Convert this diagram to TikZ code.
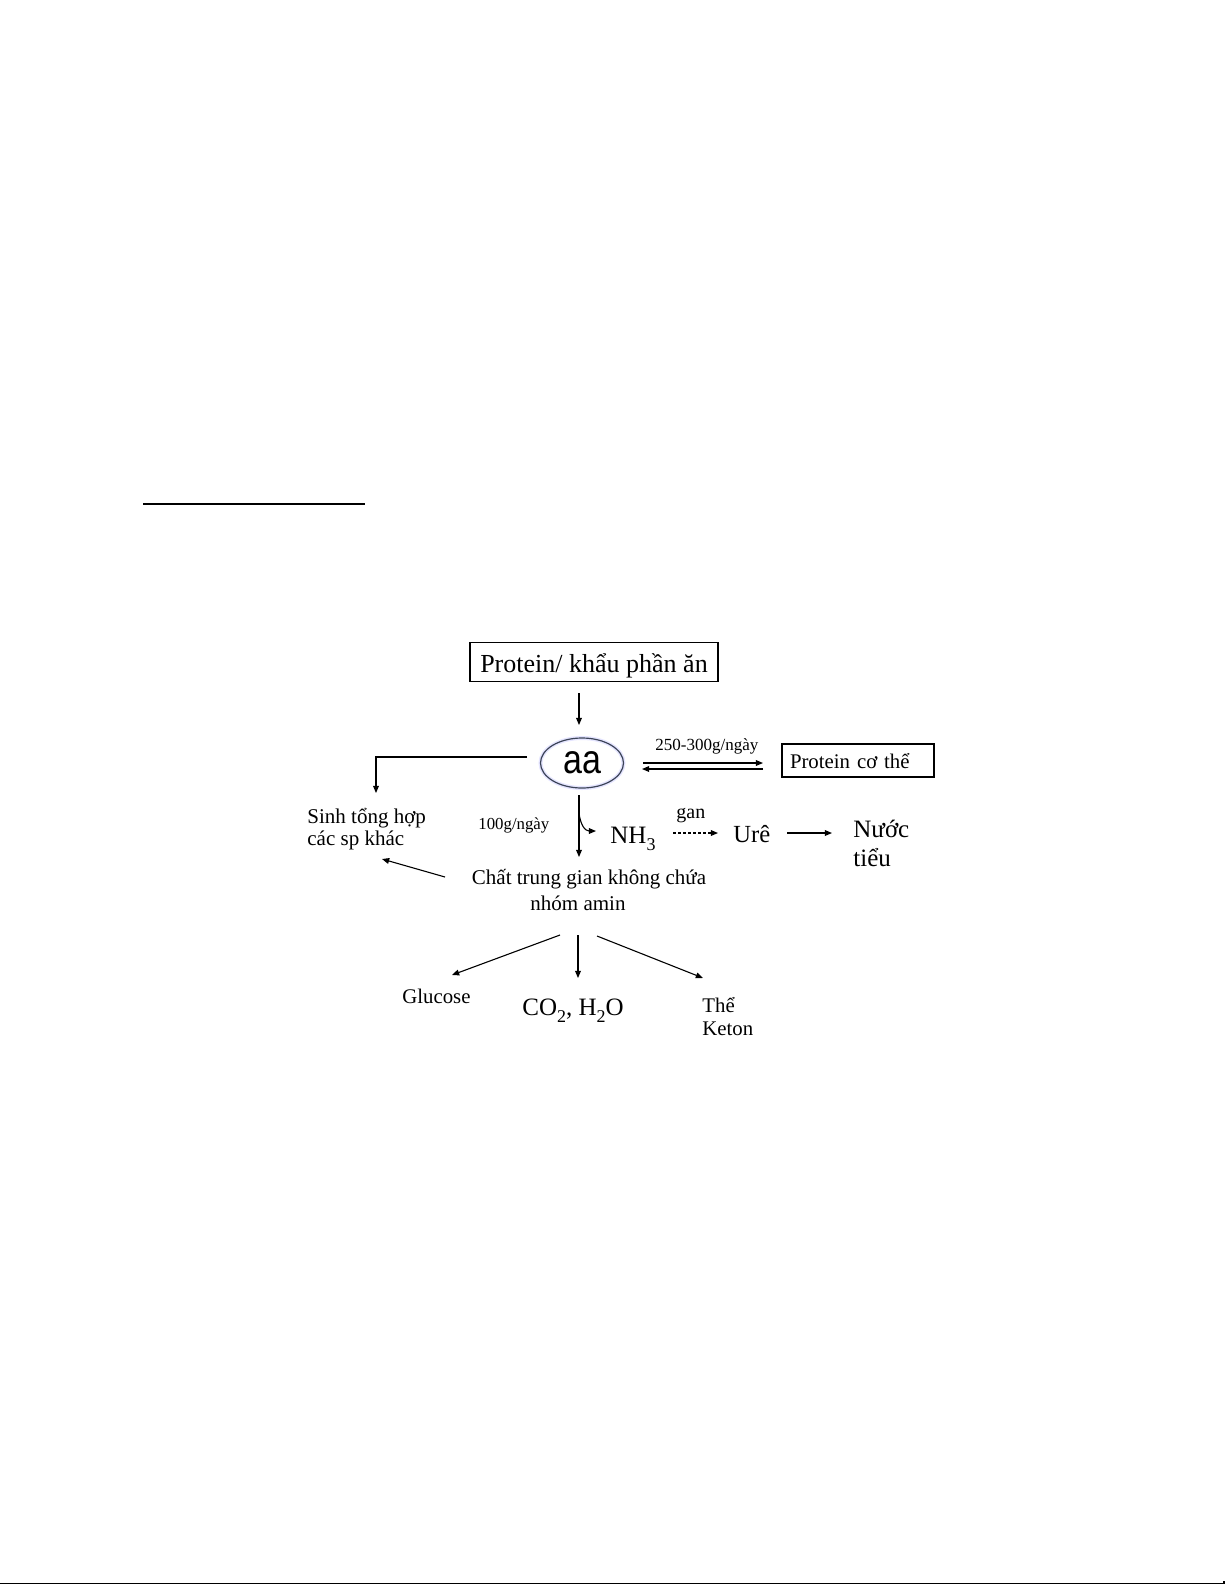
\documentclass[tikz,border=0pt]{standalone}
\usepackage{fontspec}
\usepackage{graphicx}
\setmainfont{Liberation Serif}
\newfontfamily\arialf{Liberation Sans}
\usetikzlibrary{arrows.meta,shapes.geometric}
\newcommand\twolinesL[2]{\begin{tabular}[t]{@{}l@{}}#1\\#2\end{tabular}}
\newcommand\twolinesC[2]{\begin{tabular}[t]{@{}c@{}}#1\\#2\end{tabular}}
\newcommand\fsz[2]{\fontsize{#1}{#2}\selectfont}
\newcommand\lowsub[1]{\raisebox{-3.6pt}{\fsz{9}{9}#1}}
\begin{document}
\begin{tikzpicture}[x=0.5pt,y=-0.5pt,
  arr/.style={-{Triangle[length=3.6pt,width=2.9pt]}, line width=0.55pt},
  dasharr/.style={arr, dash pattern=on 1.5pt off 1pt},
  txt/.style={inner sep=0pt, anchor=base west},
  ctxt/.style={inner sep=0pt, anchor=base},
  boxed/.style={draw, line width=0.6pt, inner sep=0pt},
  rule/.style={line width=0.6pt}]
\useasboundingbox (0,0) rectangle (1225,1585);
\fill[white] (0,0) rectangle (1225,1585);
% page rules
\draw[rule] (143,504) -- (365,504);
\draw[rule] (0,1583.5) -- (1225,1583.5);
\draw[rule] (1224,1583.5) -- (1224,1581);

% nodes
\node[boxed, minimum width=124pt, minimum height=19.5pt, text height=12pt, text depth=2pt,
      font=\fsz{13}{15}] (prot) at (594,662) {Protein/ khẩu phần ăn};
\node[ellipse, draw={rgb,255:red,60;green,68;blue,88}, line width=0.6pt,
      preaction={draw=blue!10, line width=2pt},
      minimum width=41.5pt, minimum height=25pt, inner sep=0pt,
      font=\arialf\fsz{17}{17}] (aa) at (582,763) {\scalebox{1}[1.2]{aa}};
\node[boxed, minimum width=76pt, minimum height=16.5pt, text width=68pt, align=left,
      text height=9.5pt, text depth=2pt, font=\fsz{10.4}{12}] (pct) at (858,760.5) {Protein cơ thể};
\node[txt, font=\fsz{8.5}{10}] (l250) at (655,750) {250-300g/ngày};
\node[txt, font=\fsz{10.5}{11}] (sinh) at (307,823) {\twolinesL{Sinh tổng hợp}{các sp khác}};
\node[txt, font=\fsz{8.4}{10}] (l100) at (478,829) {100g/ngày};
\node[txt, font=\fsz{12.5}{14}] (nh3) at (610,843) {NH\lowsub{3}};
\node[txt, font=\fsz{10}{12}] (gan) at (676,818) {gan};
\node[txt, font=\fsz{12.3}{14}] (ure) at (733,842) {Urê};
\node[txt, font=\fsz{12.5}{14.5}] (nuoc) at (853,837) {\twolinesL{Nước}{tiểu}};
\node[ctxt, font=\fsz{10.5}{13}] (chat) at (589,884) {\twolinesC{Chất trung gian không chứa}{nhóm amin\hspace*{11pt}}};
\node[txt, font=\fsz{10.4}{12}] (gluc) at (402,1003) {Glucose};
\node[txt, font=\fsz{12.5}{14}] (co2) at (522,1015) {CO\lowsub{2}, H\lowsub{2}O};
\node[txt, font=\fsz{10.4}{11.5}] (keton) at (702,1012) {\twolinesL{Thể}{Keton}};

% connector end points
\coordinate (protOut) at (579,693);
\coordinate (aaIn) at (579,725);
\coordinate (aaLeft) at (527,757);
\coordinate (sinhIn) at (376,793);
\coordinate (aaRightA) at (643,763);
\coordinate (pctInA) at (763,763);
\coordinate (pctOutB) at (763,769);
\coordinate (aaRightB) at (642,769);
\coordinate (aaOut) at (579,795);
\coordinate (chatIn) at (579,857);
\coordinate (curveStart) at (579,813);
\coordinate (nh3In) at (596,831);
\coordinate (nh3Out) at (673,833);
\coordinate (ureIn) at (718,833);
\coordinate (ureOut) at (787,833);
\coordinate (nuocIn) at (832,833);
\coordinate (chatLeft) at (445,877);
\coordinate (sinhIn2) at (382,859);
\coordinate (chatBL) at (560,935);
\coordinate (glucIn) at (452,975);
\coordinate (chatBM) at (578,935);
\coordinate (co2In) at (578,978);
\coordinate (chatBR) at (597,936);
\coordinate (ketonIn) at (703,978);

% connectors
\draw[arr] (protOut) -- (aaIn);
\draw[arr] (aaLeft) -| (sinhIn);
\draw[arr] (aaRightA) -- (pctInA);
\draw[arr] (pctOutB) -- (aaRightB);
\draw[arr] (aaOut) -- (chatIn);
\draw[arr] (curveStart) .. controls (580.5,825) and (585,831) .. (nh3In);
\draw[dasharr] (nh3Out) -- (ureIn);
\draw[arr] (ureOut) -- (nuocIn);
\draw[arr] (chatLeft) -- (sinhIn2);
\draw[arr] (chatBL) -- (glucIn);
\draw[arr] (chatBM) -- (co2In);
\draw[arr] (chatBR) -- (ketonIn);
\end{tikzpicture}
\end{document}
